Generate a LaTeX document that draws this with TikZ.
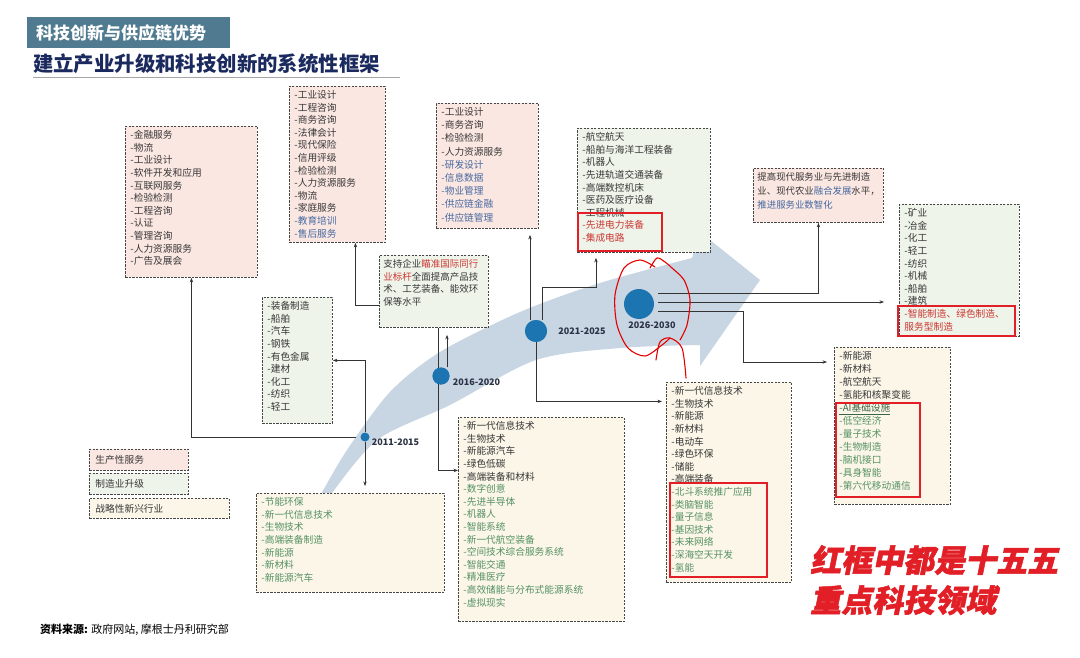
\documentclass[tikz,border=0pt]{standalone}
\usepackage{fontspec}
\setmainfont{Noto Sans CJK SC}
\newfontfamily\hlfont[FakeSlant=0.2,FakeBold=1.5]{Noto Sans CJK SC}
\usepackage{xcolor}
\usetikzlibrary{arrows.meta,positioning,calc}

\definecolor{hdrblue}{RGB}{79,122,143}
\definecolor{navy}{RGB}{27,42,94}
\definecolor{svcfill}{RGB}{251,231,226}
\definecolor{mfgfill}{RGB}{238,244,234}
\definecolor{strfill}{RGB}{251,246,232}
\definecolor{edge}{RGB}{70,70,70}
\definecolor{txtdark}{RGB}{55,55,55}
\definecolor{txtblue}{RGB}{70,105,160}
\definecolor{txtgreen}{RGB}{85,145,100}
\definecolor{txtred}{RGB}{205,55,50}
\definecolor{hlred}{RGB}{226,30,38}
\definecolor{dotblue}{RGB}{28,117,176}
\definecolor{swoosh}{RGB}{200,213,227}
\definecolor{yrtxt}{RGB}{43,50,69}

% list lines, top aligned in a box of fixed size
\newcommand{\boxlines}[3]{\parbox[c][#2][t]{#1}{#3}}

\begin{document}
\begin{tikzpicture}[x=1pt, y=-1pt,
  lst/.style={draw=edge, line width=0.9pt, dash pattern=on 2.2pt off 1.3pt, anchor=north west,
    inner xsep=5pt, inner ysep=4pt, text=txtdark, font=\fontsize{9.7}{12.6}\selectfont},
  svc/.style={lst, fill=svcfill},
  mfg/.style={lst, fill=mfgfill},
  strat/.style={lst, fill=strfill},
  hl/.style={draw=hlred, line width=1.6pt},
  conn/.style={draw=black!80, line width=0.7pt, -{Stealth[length=4.5pt,width=3.4pt]}},
  yeardot/.style={circle, fill=dotblue, inner sep=0pt},
  yr/.style={font=\bfseries\fontsize{9}{10}\selectfont, text=yrtxt, inner sep=1pt},
  scrib/.style={draw=red!90!black, line width=1.1pt, line cap=round, line join=round}]
\fill[white] (0,0) rectangle (1080,658);
\useasboundingbox (0,0) rectangle (1080,658);

% title
\node[fill=hdrblue, text=white, anchor=north west, minimum width=203pt, minimum height=31pt,
  inner xsep=9pt, text width=185pt, align=left, font=\bfseries\fontsize{17}{20}\selectfont] (hdr) at (27,17) {科技创新与供应链优势};
\node[anchor=west, inner sep=0pt, text=navy, font=\bfseries\fontsize{20.4}{24}\selectfont] (subttl) at (33,64) {建立产业升级和科技创新的系统性框架};
\draw[gray!70, line width=0.8pt] (33,77) -- (400,77);

% big arrow
\fill[swoosh] plot[smooth] coordinates {(320,496) (347,450) (390,392) (440,352) (520,312) (600,283) (692,258)}
  -- (700,232) -- (760,280) -- (700,366)
  -- plot[smooth] coordinates {(700,345) (620,348) (536,360) (450,405) (377,440) (330,496)} -- cycle;

% timeline dots
\node[yeardot, minimum size=9pt] (y11) at (365,437) {};
\node[yeardot, minimum size=17pt] (y16) at (441,376) {};
\node[yeardot, minimum size=22pt] (y21) at (536,331) {};
\node[yeardot, minimum size=30pt] (y26) at (639,304) {};

% boxes
\node[svc] (svcA) at (125,126) {\boxlines{122pt}{143pt}{-金融服务\\-物流\\-工业设计\\-软件开发和应用\\-互联网服务\\-检验检测\\-工程咨询\\-认证\\-管理咨询\\-人力资源服务\\-广告及展会}};
\node[svc] (svcB) at (289,86) {\boxlines{86pt}{148pt}{-工业设计\\-工程咨询\\-商务咨询\\-法律会计\\-现代保险\\-信用评级\\-检验检测\\-人力资源服务\\-物流\\-家庭服务\\{\color{txtblue}-教育培训\\-售后服务}}};
\node[svc, font=\fontsize{9.7}{13.2}\selectfont] (svcC) at (436,103) {\boxlines{92pt}{117pt}{-工业设计\\-商务咨询\\-检验检测\\-人力资源服务\\{\color{txtblue}-研发设计\\-信息数据\\-物业管理\\-供应链金融\\-供应链管理}}};
\node[mfg] (mfgD) at (577,128) {\boxlines{123pt}{116pt}{-航空航天\\-船舶与海洋工程装备\\-机器人\\-先进轨道交通装备\\-高端数控机床\\-医药及医疗设备\\-工程机械\\{\color{txtred}-先进电力装备\\-集成电路}}};
\node[svc, inner xsep=4pt, font=\fontsize{9.4}{14}\selectfont] (svcE) at (753,168) {\boxlines{122pt}{46pt}{提高现代服务业与先进制造\\业、现代农业\textcolor{txtblue}{融合发展}水平，\\\textcolor{txtblue}{推进服务业数智化}}};
\node[mfg] (mfgF) at (899,204) {\boxlines{110pt}{124pt}{-矿业\\-冶金\\-化工\\-轻工\\-纺织\\-机械\\-船舶\\-建筑\\{\color{txtred}-智能制造、绿色制造、\\服务型制造}}};
\node[mfg, inner xsep=4pt, font=\fontsize{9.5}{12.6}\selectfont] (mfgG) at (379,255) {\boxlines{101pt}{64pt}{支持企业\textcolor{txtred}{瞄准国际同行}\\\textcolor{txtred}{业标杆}全面提高产品技\\术、工艺装备、能效环\\保等水平}};
\node[mfg] (mfgH) at (262,297) {\boxlines{60pt}{118pt}{-装备制造\\-船舶\\-汽车\\-钢铁\\-有色金属\\-建材\\-化工\\-纺织\\-轻工}};
\node[strat] (strI) at (256,493) {\boxlines{178pt}{91pt}{\color{txtgreen}-节能环保\\-新一代信息技术\\-生物技术\\-高端装备制造\\-新能源\\-新材料\\-新能源汽车}};
\node[strat] (strJ) at (458,417) {\boxlines{156pt}{196pt}{-新一代信息技术\\-生物技术\\-新能源汽车\\-绿色低碳\\-高端装备和材料\\{\color{txtgreen}-数字创意\\-先进半导体\\-机器人\\-智能系统\\-新一代航空装备\\-空间技术综合服务系统\\-智能交通\\-精准医疗\\-高效储能与分布式能源系统\\-虚拟现实}}};
\node[strat] (strK) at (666,382) {\boxlines{115pt}{192pt}{-新一代信息技术\\-生物技术\\-新能源\\-新材料\\-电动车\\-绿色环保\\-储能\\-高端装备\\{\color{txtgreen}-北斗系统推广应用\\-类脑智能\\-量子信息\\-基因技术\\-未来网络\\-深海空天开发\\-氢能}}};
\node[strat, font=\fontsize{9.7}{13}\selectfont] (strL) at (834,347) {\boxlines{106pt}{149pt}{-新能源\\-新材料\\-航空航天\\-氢能和核聚变能\\\textcolor{txtgreen!70!black}{\underline{-AI基础设施}}\\{\color{txtgreen}-低空经济\\-量子技术\\-生物制造\\-脑机接口\\-具身智能\\-第六代移动通信}}};

% highlighted items
\draw[hl] (578,213) rectangle (662,251);
\draw[hl] (898,306) rectangle (1015,336);
\draw[hl] (670,483) rectangle (767,577);
\draw[hl] (836,403) rectangle (920,497);

% legend
\node[svc, text width=87pt, minimum height=21pt, inner xsep=6pt, inner ysep=0pt] (legSvc) at (89,449) {生产性服务};
\node[mfg, text width=87pt, minimum height=21pt, inner xsep=6pt, inner ysep=0pt] (legMfg) at (89,473) {制造业升级};
\node[strat, text width=128pt, minimum height=20pt, inner xsep=6pt, inner ysep=0pt] (legStr) at (89,498) {战略性新兴行业};

% connectors
\coordinate (v16) at ([xshift=-3pt]y16.center);
\coordinate (u16) at ([xshift=6pt]y16.north);
\coordinate (u21a) at ([xshift=-6pt]y21.north);
\coordinate (u21b) at ([xshift=6pt]y21.north);
\coordinate (k21) at (596,287);
\coordinate (r26a) at ([shift={(4pt,11pt)}]y26.east);
\coordinate (r26b) at ([shift={(4pt,2pt)}]y26.east);
\coordinate (r26c) at ([shift={(4pt,-7pt)}]y26.east);
\coordinate (k26) at (743,362);
\draw[conn, shorten <=4pt] (y11.west) -| (svcA.south);
\draw[conn] (y11.north) |- (mfgH.east);
\draw[conn, shorten >=7pt] (y11.south) -- (y11.south |- strI.north);
\draw[conn] ([yshift=-14pt]mfgG.west) -| ([xshift=18pt]svcB.south);
\draw[conn] (v16 |- mfgG.south) |- ([yshift=49pt]strJ.west);
\draw[conn, shorten >=7pt] (u16) -- (u16 |- mfgG.south);
\draw[conn, shorten >=6pt] (u21a) -- (u21a |- svcC.south);
\draw[conn, shorten >=5pt] (u21b) |- (k21) -- (k21 |- mfgD.south);
\draw[conn, shorten >=4pt] (y21.south) |- ([yshift=81pt]strK.west);
\draw[conn] (r26a) -| (svcE.south);
\draw[conn, shorten >=15pt] (r26b) -- (r26b -| mfgF.west);
\draw[conn, shorten >=7pt] (r26c) -| (k26) -- (k26 -| strL.west);

% dots again on top of the lines
\fill[dotblue] (y16.center) circle (8.5pt);
\fill[dotblue] (y21.center) circle (11pt);

% year labels
\node[yr, right=1pt of y11, yshift=-5pt] (lab11) {2011-2015};
\node[yr, right=2pt of y16, yshift=-6pt] (lab16) {2016-2020};
\node[yr, right=10pt of y21] (lab21) {2021-2025};
\node[yr, below=1pt of y26, xshift=13pt] (lab26) {2026-2030};

% hand drawn mark
\draw[scrib] plot[smooth] coordinates {(655,267) (640,260) (624,268) (615,295) (617,325) (628,348) (645,356) (662,345) (670,338)};
\draw[scrib] plot[smooth] coordinates {(650,268) (657,258) (665,262) (672,268) (684,280) (690,300) (687,325) (680,340)};
\draw[scrib] plot[smooth] coordinates {(656,360) (660,342) (670,338) (682,348) (686,378)};

% note and source
\node[anchor=north west, align=left, inner sep=0pt, text=hlred, font=\hlfont\bfseries\fontsize{31}{40}\selectfont] (note) at (810,545) {红框中都是十五五\\重点科技领域};
\node[anchor=west, inner sep=0pt, font=\fontsize{11}{13}\selectfont] (src) at (40,630) {\textbf{资料来源:} 政府网站, 摩根士丹利研究部};
\end{tikzpicture}
\end{document}
